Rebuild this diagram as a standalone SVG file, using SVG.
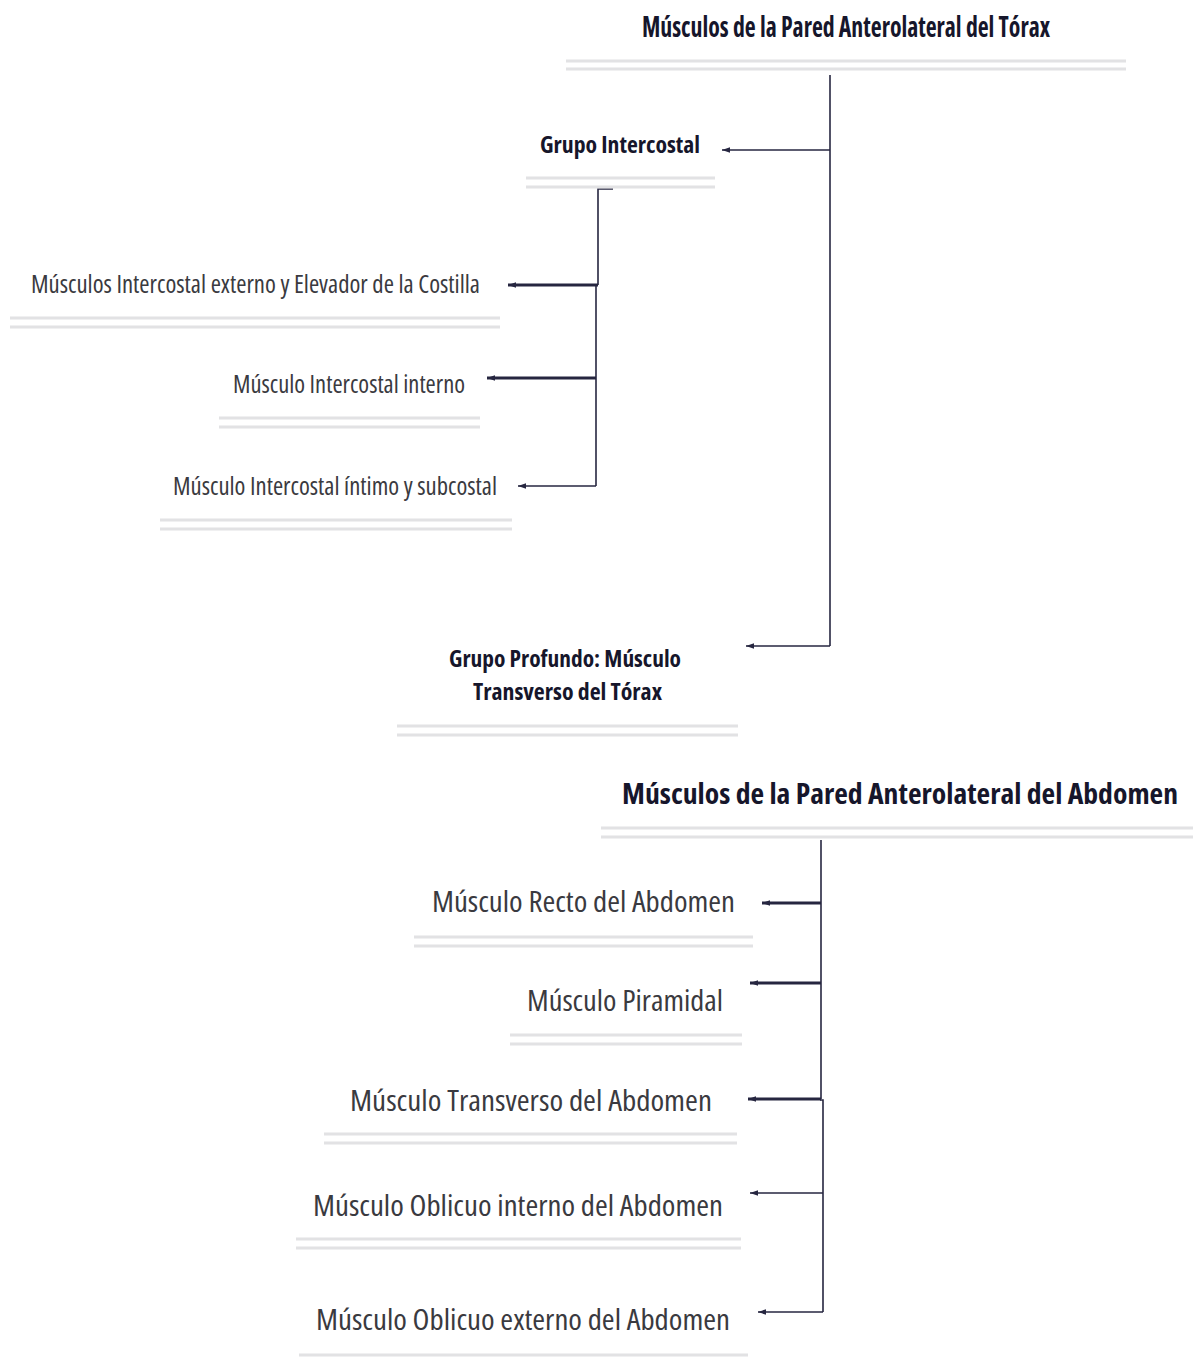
<svg xmlns="http://www.w3.org/2000/svg" width="1193" height="1358" viewBox="0 0 1193 1358">
<style>
  .bg { fill: #ffffff; }
  .t { font-family: "Open Sans", "Liberation Sans", sans-serif; font-stretch: condensed; }
  .h { font-weight: 700; fill: #16162b; }
  .r { font-weight: 400; fill: #3a3a40; }
  .ul { stroke: #e2e2e4; stroke-width: 3; fill: none; }
  .c { stroke: #262640; fill: none; stroke-width: 1.6; }
  .ck { stroke: #262640; fill: none; stroke-width: 3; }
</style>
<defs>
  <marker id="ah" viewBox="0 0 10 10" refX="10" refY="5" markerWidth="8" markerHeight="8" markerUnits="userSpaceOnUse" orient="auto">
    <path d="M10,5 L0,1.5 L0,8.5 Z" fill="#262640"/>
  </marker>
</defs>
<rect class="bg" x="0" y="0" width="1193" height="1358"/>

<g id="connectors">
  <!-- thorax -->
  <path class="c" d="M830,75 V646"/>
  <path class="c" d="M830,150 H722" marker-end="url(#ah)"/>
  <path class="c" d="M830,646 H746" marker-end="url(#ah)"/>
  <path class="c" d="M613,189 H598 V285"/>
  <path class="c" d="M596,285 V486"/>
  <path class="ck" d="M598,285 H508" marker-end="url(#ah)"/>
  <path class="ck" d="M596,378 H487" marker-end="url(#ah)"/>
  <path class="c" d="M596,486 H518" marker-end="url(#ah)"/>
  <!-- abdomen -->
  <path class="c" d="M821,840 V1099"/>
  <path class="ck" d="M821,903 H762" marker-end="url(#ah)"/>
  <path class="ck" d="M821,983 H750" marker-end="url(#ah)"/>
  <path class="ck" d="M821,1099 H748" marker-end="url(#ah)"/>
  <path class="c" d="M820,1100 H823 V1312"/>
  <path class="c" d="M823,1193 H750" marker-end="url(#ah)"/>
  <path class="c" d="M823,1312 H758" marker-end="url(#ah)"/>
</g>

<g id="n-torax">
  <text class="t h" x="642" y="37" font-size="28" textLength="408" lengthAdjust="spacingAndGlyphs">Músculos de la Pared Anterolateral del Tórax</text>
  <path class="ul" d="M566,61 H1126 M566,69 H1126"/>
</g>
<g id="n-intercostal">
  <text class="t h" x="540" y="153" font-size="23" textLength="160" lengthAdjust="spacingAndGlyphs">Grupo Intercostal</text>
  <path class="ul" d="M526,178 H715 M526,187 H715"/>
</g>
<g id="n-externo">
  <text class="t r" x="31" y="293" font-size="25" textLength="449" lengthAdjust="spacingAndGlyphs">Músculos Intercostal externo y Elevador de la Costilla</text>
  <path class="ul" d="M10,318 H500 M10,327 H500"/>
</g>
<g id="n-interno">
  <text class="t r" x="233" y="393" font-size="25" textLength="232" lengthAdjust="spacingAndGlyphs">Músculo Intercostal interno</text>
  <path class="ul" d="M219,418 H480 M219,427 H480"/>
</g>
<g id="n-intimo">
  <text class="t r" x="173" y="495" font-size="25" textLength="324" lengthAdjust="spacingAndGlyphs">Músculo Intercostal íntimo y subcostal</text>
  <path class="ul" d="M160,520 H512 M160,529 H512"/>
</g>
<g id="n-profundo">
  <text class="t h" x="449" y="667" font-size="23" textLength="232" lengthAdjust="spacingAndGlyphs">Grupo Profundo: Músculo</text>
  <text class="t h" x="473" y="700" font-size="23" textLength="189" lengthAdjust="spacingAndGlyphs">Transverso del Tórax</text>
  <path class="ul" d="M397,726 H738 M397,735 H738"/>
</g>

<g id="n-abdomen">
  <text class="t h" x="622" y="804" font-size="28" textLength="556" lengthAdjust="spacingAndGlyphs">Músculos de la Pared Anterolateral del Abdomen</text>
  <path class="ul" d="M601,828 H1193 M601,837 H1193"/>
</g>
<g id="n-recto">
  <text class="t r" x="432" y="912" font-size="29" textLength="303" lengthAdjust="spacingAndGlyphs">Músculo Recto del Abdomen</text>
  <path class="ul" d="M414,937 H753 M414,946 H753"/>
</g>
<g id="n-piramidal">
  <text class="t r" x="527" y="1011" font-size="29" textLength="196" lengthAdjust="spacingAndGlyphs">Músculo Piramidal</text>
  <path class="ul" d="M510,1035 H742 M510,1044 H742"/>
</g>
<g id="n-transverso">
  <text class="t r" x="350" y="1111" font-size="29" textLength="362" lengthAdjust="spacingAndGlyphs">Músculo Transverso del Abdomen</text>
  <path class="ul" d="M324,1134 H737 M324,1143 H737"/>
</g>
<g id="n-oblicuo-int">
  <text class="t r" x="313" y="1216" font-size="29" textLength="410" lengthAdjust="spacingAndGlyphs">Músculo Oblicuo interno del Abdomen</text>
  <path class="ul" d="M296,1239 H741 M296,1248 H741"/>
</g>
<g id="n-oblicuo-ext">
  <text class="t r" x="316" y="1330" font-size="29" textLength="414" lengthAdjust="spacingAndGlyphs">Músculo Oblicuo externo del Abdomen</text>
  <path class="ul" d="M299,1355 H748"/>
</g>
</svg>
